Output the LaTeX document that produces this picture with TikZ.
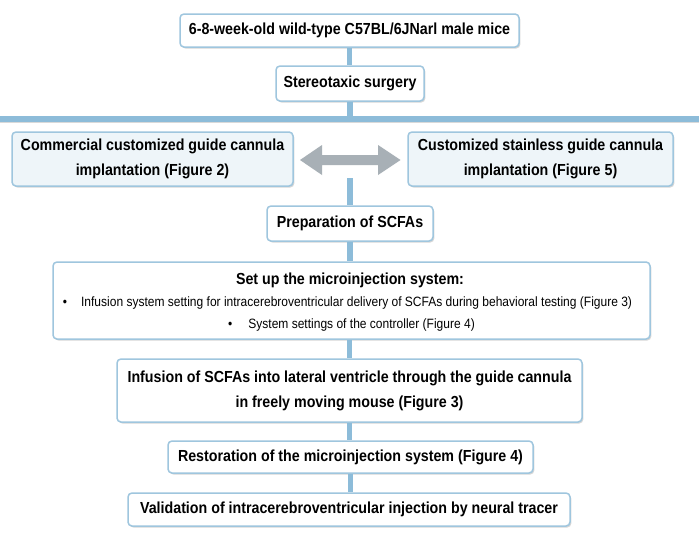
\documentclass[tikz,border=0pt]{standalone}
\usepackage{fontspec}
\setmainfont[FakeStretch=0.89]{Liberation Sans}
\usetikzlibrary{shadows}
\definecolor{conncol}{HTML}{8DBCD9}
\definecolor{bordercol}{HTML}{9FC6DE}
\definecolor{palefill}{HTML}{EEF5F9}
\definecolor{arrowgray}{HTML}{A8B0B6}
\tikzset{
  box/.style={draw=bordercol, line width=1.5pt, rounded corners=4pt, fill=white,
    drop shadow={shadow xshift=1.3pt, shadow yshift=-1.5pt, opacity=0.35, fill=black!45},
    align=center, inner sep=0pt, font=\bfseries\fontsize{16}{25}\selectfont},
  palebox/.style={box, fill=palefill},
  conn/.style={draw=conncol, line width=5.5pt},
  plain/.style={inner sep=0pt, align=center},
}
\begin{document}
\begin{tikzpicture}[x=1pt, y=-1pt]
\path[use as bounding box, fill=white] (0,0) rectangle (699,541);

% horizontal bar
\coordinate (barL) at (0,118.5);
\coordinate (barR) at (699,118.5);
\coordinate (barM) at (350,118.5);
\coordinate (split) at (350,178);
\draw[draw=black!15, line width=2pt] ([yshift=-3.5pt]barL) -- ([yshift=-3.5pt]barR);
\draw[conn, line width=6pt] (barL) -- (barR);

% boxes
\node[box, minimum width=339pt, minimum height=33pt] (b1) at (349.5,30.5) {6-8-week-old wild-type C57BL/6JNarl male mice};
\node[box, minimum width=148pt, minimum height=35pt] (b2) at (350,83.5) {Stereotaxic surgery};
\node[palebox, minimum width=281pt, minimum height=54pt] (b3) at (152.5,159) {Commercial customized guide cannula\\implantation (Figure 2)};
\node[palebox, minimum width=265pt, minimum height=54pt] (b4) at (540.5,159) {Customized stainless guide cannula\\implantation (Figure 5)};
\node[box, minimum width=166pt, minimum height=35pt] (b5) at (350,223.5) {Preparation of SCFAs};
\node[box, minimum width=597pt, minimum height=77pt] (b6) at (351.5,300.5) {};
\node[plain, font=\bfseries\fontsize{16}{19}\selectfont] (b6t) at (350,280.5) {Set up the microinjection system:};
\node[plain, font=\fontsize{13.5}{16}\selectfont] (b6a) at (347.5,303) {•\hspace{14pt}Infusion system setting for intracerebroventricular delivery of SCFAs during behavioral testing (Figure 3)};
\node[plain, font=\fontsize{13.5}{16}\selectfont] (b6b) at (351.5,325.5) {•\hspace{16pt}System settings of the controller (Figure 4)};
\node[box, minimum width=465pt, minimum height=63pt] (b7) at (349.5,390.5) {Infusion of SCFAs into lateral ventricle through the guide cannula\\in freely moving mouse (Figure 3)};
\node[box, minimum width=365pt, minimum height=32pt] (b8) at (350.5,457) {Restoration of the microinjection system (Figure 4)};
\node[box, minimum width=442pt, minimum height=33pt] (b9) at (349,509.5) {Validation of intracerebroventricular injection by neural tracer};

% double arrow
\fill[arrowgray] (300,160) -- (322,145) -- (322,155) -- (378,155) -- (378,145) -- (400.5,160)
  -- (378,175) -- (378,165) -- (322,165) -- (322,175) -- cycle;

% connectors
\draw[conn] (b1.south) -- (b1.south |- b2.north);
\draw[conn] (b2.south) -- (b2.south |- barM);
\draw[conn] (split) -- (split |- b5.north);
\draw[conn] (b5.south) -- (b5.south |- b6.north);
\draw[conn] (b6.south -| b7.north) -- (b7.north);
\draw[conn] (b7.south) -- (b7.south |- b8.north);
\draw[conn] (b8.south) -- (b8.south |- b9.north);
\end{tikzpicture}
\end{document}
